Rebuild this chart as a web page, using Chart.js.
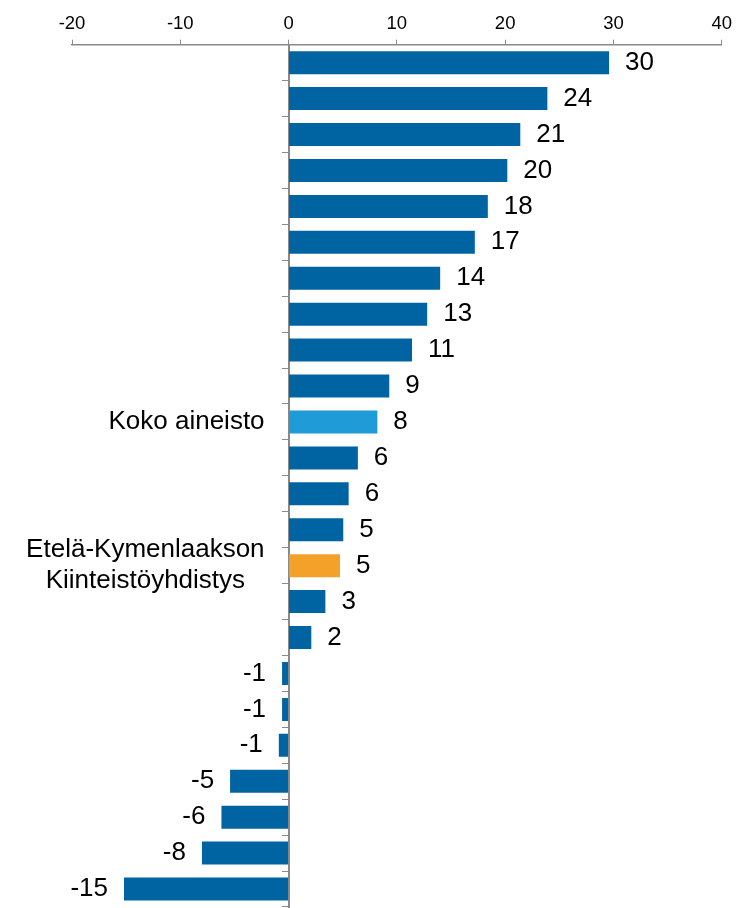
<!DOCTYPE html>
<html>
<head>
<meta charset="utf-8">
<script src="https://cdn.jsdelivr.net/npm/chart.js@4/dist/chart.umd.min.js"></script>
<style>
  body { margin: 0; background: #fff; }
  #chart-box { width: 737px; height: 908px; }
</style>
</head>
<body>
<div id="chart-box"><canvas id="bar-chart"></canvas></div>
<script>
'use strict';
// ******* GLOBALS ********
let categoryLabels = ['', '', '', '', '', '', '', '', '', '', 'Koko aineisto', '', '', '',
  ['Etelä-Kymenlaakson', 'Kiinteistöyhdistys'], '', '', '', '', '', '', '', '', ''];
let barValues = [29.6, 23.9, 21.4, 20.2, 18.4, 17.2, 14.0, 12.8, 11.4, 9.3, 8.2, 6.4, 5.55, 5.05,
  4.75, 3.4, 2.1, -0.6, -0.6, -0.9, -5.4, -6.2, -8.0, -15.2];
let xTicks = [-20, -10, 0, 10, 20, 30, 40];

let darkBlue = '#0064a2';
let lightBlue = '#1f9bd7';
let orange = '#f4a12a';
let axisGray = '#8a8a8a';
let fontName = '"Liberation Sans", Arial, sans-serif';
let labelGap = 24; // space between category label and the zero axis

//  ******* DOM WINDOWS ********
let canvasElem = document.getElementById('bar-chart');

function barColor(i) {
  if (categoryLabels[i] === 'Koko aineisto') {
    return lightBlue;
  }
  if (Array.isArray(categoryLabels[i])) {
    return orange;
  }
  return darkBlue;
}

// y labels sit at the zero line; push them left and centre the two-line one
let labelShiftPlugin = {
  id: 'labelShift',
  beforeDraw(chart) {
    let scale = chart.scales.y;
    let items = scale.getLabelItems();
    if (items._shifted) {
      return;
    }
    let ctx = chart.ctx;
    items.forEach(function (item) {
      item.options.translation[0] -= labelGap;
      if (Array.isArray(item.label)) {
        ctx.save();
        ctx.font = item.font.string;
        let widest = 0;
        item.label.forEach(function (line) {
          widest = Math.max(widest, ctx.measureText(line).width);
        });
        ctx.restore();
        item.options.textAlign = 'center';
        item.options.translation[0] -= widest / 2;
      }
    });
    items._shifted = true;
  }
};

// value labels next to bar ends
let valueLabelPlugin = {
  id: 'valueLabels',
  afterDatasetsDraw(chart) {
    let ctx = chart.ctx;
    let meta = chart.getDatasetMeta(0);
    ctx.save();
    ctx.font = '26px ' + fontName;
    ctx.fillStyle = '#000';
    ctx.textBaseline = 'middle';
    meta.data.forEach(function (bar, i) {
      let v = barValues[i];
      let txt = String(Math.round(v));
      if (v >= 0) {
        ctx.textAlign = 'left';
        ctx.fillText(txt, bar.x + 16, bar.y);
      } else {
        ctx.textAlign = 'right';
        ctx.fillText(txt, bar.x - 16, bar.y);
      }
    });
    ctx.restore();
  }
};

function renderChart() {
  let colors = [];
  for (let i = 0; i < barValues.length; i++) {
    colors.push(barColor(i));
  }

  let chartObj = {
    type: 'bar',
    data: {
      labels: categoryLabels,
      datasets: [{
        data: barValues,
        backgroundColor: colors,
        borderWidth: 0,
        barPercentage: 0.64,
        categoryPercentage: 1
      }]
    },
    options: {
      indexAxis: 'y',
      responsive: true,
      maintainAspectRatio: false,
      animation: false,
      layout: {
        padding: { left: 72, right: 14, top: 7.5, bottom: 1 }
      },
      plugins: {
        legend: { display: false },
        tooltip: { enabled: false }
      },
      scales: {
        x: {
          position: 'top',
          min: -20,
          max: 40,
          afterBuildTicks: function (scale) {
            scale.ticks = xTicks.map(function (v) { return { value: v }; });
          },
          grid: {
            drawOnChartArea: false,
            tickLength: 5,
            color: axisGray
          },
          border: { color: axisGray, width: 1.5 },
          ticks: {
            padding: 5,
            color: '#000',
            font: { family: fontName, size: 18.5 }
          }
        },
        y: {
          position: { x: 0 },
          z: 1,
          afterFit: function (scale) {
            scale.paddingTop = 0;
            scale.paddingBottom = 0;
          },
          grid: {
            offset: true,
            drawOnChartArea: false,
            tickLength: 6,
            color: axisGray
          },
          border: { color: axisGray, width: 2 },
          ticks: {
            padding: 0,
            color: '#000',
            autoSkip: false,
            font: { family: fontName, size: 26 }
          }
        }
      }
    },
    plugins: [labelShiftPlugin, valueLabelPlugin]
  };
  new Chart(canvasElem, chartObj); // eslint-disable-line
}


// ***** EXECUTABLE CODE ******
renderChart();
</script>
</body>
</html>
